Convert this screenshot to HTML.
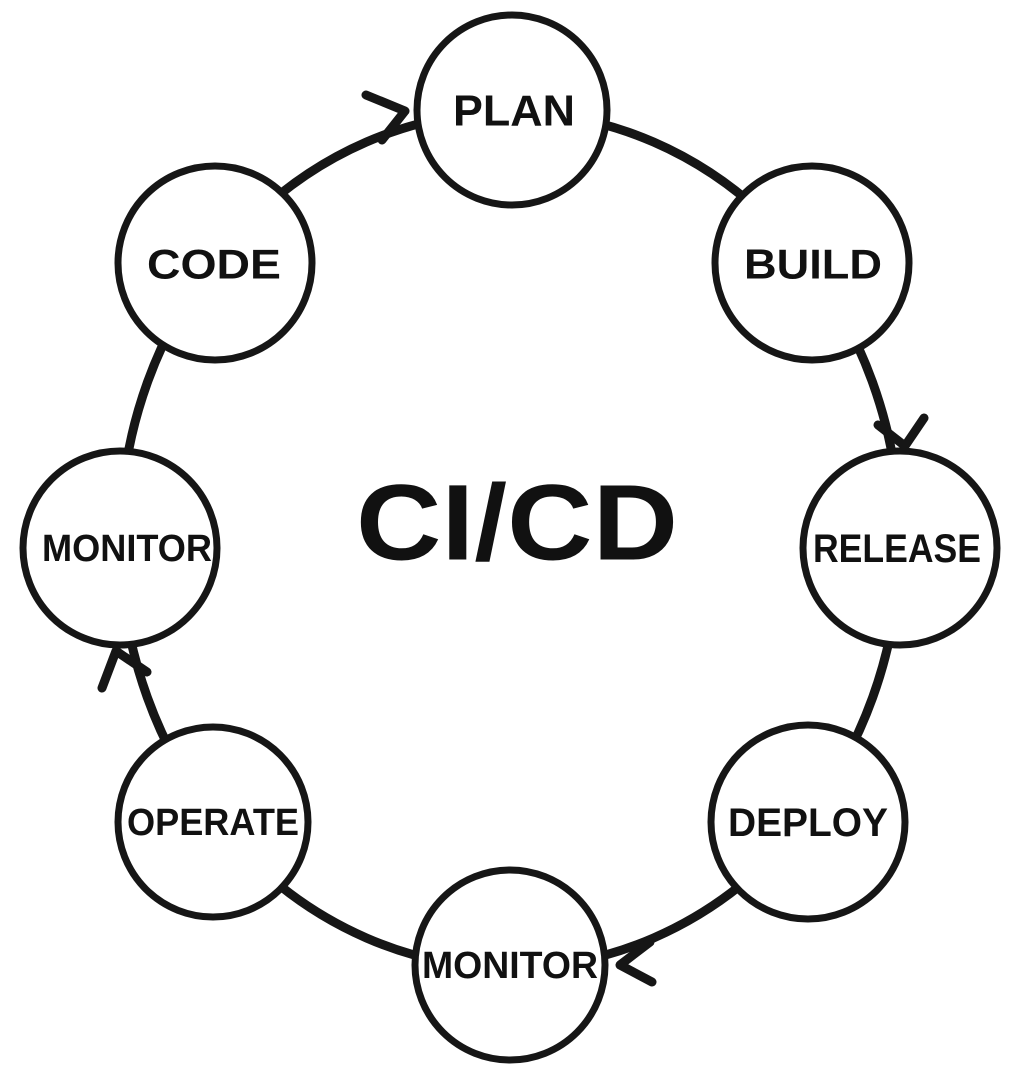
<!DOCTYPE html>
<html><head><meta charset="utf-8"><style>
html,body{margin:0;padding:0;background:#fff;}
svg{display:block;}
text{font-family:"Liberation Sans",sans-serif;font-weight:bold;fill:#111;text-anchor:middle;dominant-baseline:central;}
</style></head><body>
<svg width="1023" height="1089" viewBox="0 0 1023 1089" xmlns="http://www.w3.org/2000/svg">
<rect width="1023" height="1089" fill="#fff"/>
<ellipse cx="510" cy="540" rx="390" ry="428" fill="none" stroke="#161616" stroke-width="9"/>
<g fill="none" stroke="#161616" stroke-width="9" stroke-linecap="round" stroke-linejoin="round">
<polyline points="366,95 405,111 382,140"/>
<polyline points="878,425 905,446 924,418"/>
<polyline points="650,942 620,965 652,982"/>
<polyline points="102,688 116,651 147,672"/>
</g>
<g fill="#fff" stroke="#161616" stroke-width="7">
<circle cx="512" cy="110" r="95"/>
<circle cx="812" cy="263" r="97"/>
<circle cx="900" cy="548" r="97"/>
<circle cx="808" cy="822" r="97"/>
<circle cx="510" cy="965" r="95"/>
<circle cx="213" cy="822" r="95"/>
<circle cx="120" cy="548" r="97"/>
<circle cx="215" cy="263" r="97"/>
</g>
<text x="514" y="111" font-size="44" textLength="122" lengthAdjust="spacingAndGlyphs">PLAN</text>
<text x="813" y="264" font-size="42" textLength="138" lengthAdjust="spacingAndGlyphs">BUILD</text>
<text x="897" y="549" font-size="40" textLength="168" lengthAdjust="spacingAndGlyphs">RELEASE</text>
<text x="808" y="823" font-size="40" textLength="160" lengthAdjust="spacingAndGlyphs">DEPLOY</text>
<text x="510" y="966" font-size="38" textLength="176" lengthAdjust="spacingAndGlyphs">MONITOR</text>
<text x="213" y="823" font-size="38" textLength="172" lengthAdjust="spacingAndGlyphs">OPERATE</text>
<text x="127" y="549" font-size="38" textLength="170" lengthAdjust="spacingAndGlyphs">MONITOR</text>
<text x="214" y="264" font-size="42" textLength="134" lengthAdjust="spacingAndGlyphs">CODE</text>
<text x="517" y="522" font-size="108" textLength="322" lengthAdjust="spacingAndGlyphs">CI/CD</text>
</svg>
</body></html>
